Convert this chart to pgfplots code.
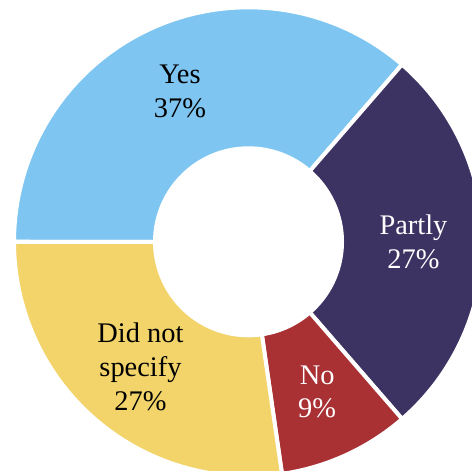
\documentclass[border=0pt]{standalone}
\usepackage{pgfplots}
\pgfplotsset{compat=1.18}
\usepackage{fontspec}
\setmainfont{Liberation Serif}
\definecolor{cyes}{RGB}{126,198,241}
\definecolor{cpartly}{RGB}{60,51,99}
\definecolor{cno}{RGB}{169,48,51}
\definecolor{cdns}{RGB}{242,212,107}
\begin{document}
\begin{tikzpicture}
% shares in percent
\def\vYes{36.36}
\def\vPartly{27.27}
\def\vNo{9.09}
\def\vDns{27.28}
\pgfmathsetmacro{\aA}{180}
\pgfmathsetmacro{\aB}{\aA-3.6*\vYes}
\pgfmathsetmacro{\aC}{\aB-3.6*\vPartly}
\pgfmathsetmacro{\aD}{\aC-3.6*\vNo}
\pgfmathsetmacro{\aE}{\aD-3.6*\vDns}
\pgfmathsetmacro{\mA}{(\aA+\aB)/2}
\pgfmathsetmacro{\mB}{(\aB+\aC)/2}
\pgfmathsetmacro{\mC}{(\aC+\aD)/2}
\pgfmathsetmacro{\mD}{(\aD+\aE)/2}
\def\Ro{234.5}
\def\Ri{95.5}
\def\Rl{165}
\begin{axis}[
  name=a,
  width=472bp, height=471bp, scale only axis,
  xmin=-248.5, xmax=223.5, ymin=-229.2, ymax=241.8,
  hide axis, clip=true,
  every axis plot/.append style={line join=round},
]
\addplot[fill=cyes, draw=white, line width=4bp, domain=\aB:\aA, samples=90, variable=\t]
  ({\Ro*cos(\t)},{\Ro*sin(\t)}) -- (axis cs:0,0) -- cycle;
\addplot[fill=cpartly, draw=white, line width=4bp, domain=\aC:\aB, samples=90, variable=\t]
  ({\Ro*cos(\t)},{\Ro*sin(\t)}) -- (axis cs:0,0) -- cycle;
\addplot[fill=cno, draw=white, line width=4bp, domain=\aD:\aC, samples=40, variable=\t]
  ({\Ro*cos(\t)},{\Ro*sin(\t)}) -- (axis cs:0,0) -- cycle;
\addplot[fill=cdns, draw=white, line width=4bp, domain=\aE:\aD, samples=90, variable=\t]
  ({\Ro*cos(\t)},{\Ro*sin(\t)}) -- (axis cs:0,0) -- cycle;
\addplot[fill=white, draw=none, domain=0:360, samples=180, variable=\t]
  ({\Ri*cos(\t)},{\Ri*sin(\t)}) -- cycle;
\tikzset{lab/.style={align=center, font=\fontsize{28.5}{34}\selectfont}}
\node[lab, text=black] at (axis cs:{\Rl*cos(\mA)},{\Rl*sin(\mA)}) {Yes\\37\%};
\node[lab, text=white] at (axis cs:{\Rl*cos(\mB)},{\Rl*sin(\mB)}) {Partly\\27\%};
\node[lab, text=white] at (axis cs:{\Rl*cos(\mC)},{\Rl*sin(\mC)}) {No\\9\%};
\node[lab, text=black] at (axis cs:{\Rl*cos(\mD)},{\Rl*sin(\mD)}) {Did not\\specify\\27\%};
\end{axis}
\pgfresetboundingbox
\path[use as bounding box] (a.south west) rectangle (a.north east);
\end{tikzpicture}
\end{document}
